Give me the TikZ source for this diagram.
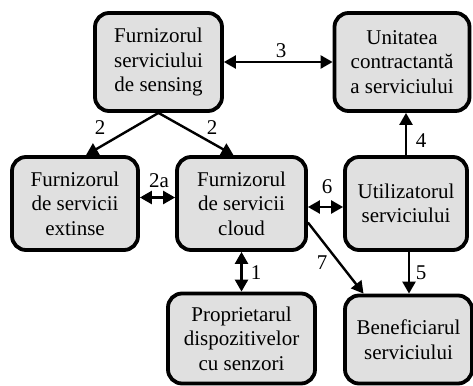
\documentclass[tikz,border=0pt]{standalone}
\usepackage{fontspec}
\setmainfont{Liberation Serif}
\usetikzlibrary{arrows.meta}
\definecolor{boxgray}{RGB}{224,224,224}
\begin{document}
\begin{tikzpicture}[x=1pt,y=-1pt,
  box/.style={draw=black,line width=3.8pt,fill=boxgray,rounded corners=14pt,align=center,inner sep=0pt,
    font=\fontsize{21}{24.5}\selectfont},
  lbl/.style={inner sep=0pt,font=\fontsize{21}{24}\selectfont},
  conn/.style={line width=2.4pt,-{Triangle[length=12pt,width=13pt]}},
  dconn/.style={line width=2.4pt,{Triangle[length=12pt,width=13pt]}-{Triangle[length=12pt,width=13pt]}}]
\useasboundingbox (0,0) rectangle (473,385);
\node[box,minimum width=127pt,minimum height=98pt] (A) at (158.5,62) {Furnizorul\\serviciului\\de sensing};
\node[box,minimum width=135pt,minimum height=98pt] (B) at (402,62) {Unitatea\\contractantă\\a serviciului};
\node[box,minimum width=126pt,minimum height=93pt] (C) at (75,203.5) {Furnizorul\\de servicii\\extinse};
\node[box,minimum width=129pt,minimum height=93pt] (D) at (241.5,203.5) {Furnizorul\\de servicii\\cloud};
\node[box,minimum width=122pt,minimum height=93pt] (E) at (406,203.5) {Utilizatorul\\serviciului};
\node[box,minimum width=147pt,minimum height=90pt] (F) at (241.5,338.5) {Proprietarul\\dispozitivelor\\cu senzori};
\node[box,minimum width=127pt,minimum height=88pt] (G) at (408.5,339.5) {Beneficiarul\\serviciului};

\draw[dconn] (A.east) -- (B.west);
\draw[conn] (A.south) -- ([xshift=11pt]C.north);
\draw[conn] (A.south) -- ([xshift=-8pt]D.north);
\draw[conn] (E.north) -- (E.north |- B.south);
\draw[dconn] ([yshift=6pt]C.east) -- ([yshift=6pt]C.east -| D.west);
\draw[dconn] ([yshift=-3.5pt]D.east) -- ([yshift=-3.5pt]D.east -| E.west);
\draw[dconn] (D.south) -- (D.south |- F.north);
\draw[conn] ([yshift=-19pt]D.east) -- ([xshift=-45pt]G.north);
\draw[conn] ([xshift=3pt]E.south) -- ([xshift=3pt]E.south |- G.north);

\node[lbl] (l3) at (281,51) {3};
\node[lbl] (l2a) at (100,128) {2};
\node[lbl] (l2b) at (212,128) {2};
\node[lbl] (l4) at (421,141) {4};
\node[lbl] (l2c) at (159,181) {2a};
\node[lbl] (l6) at (327,187) {6};
\node[lbl] (l1) at (256,273) {1};
\node[lbl] (l7) at (322,263) {7};
\node[lbl] (l5) at (421,273) {5};
\end{tikzpicture}
\end{document}
